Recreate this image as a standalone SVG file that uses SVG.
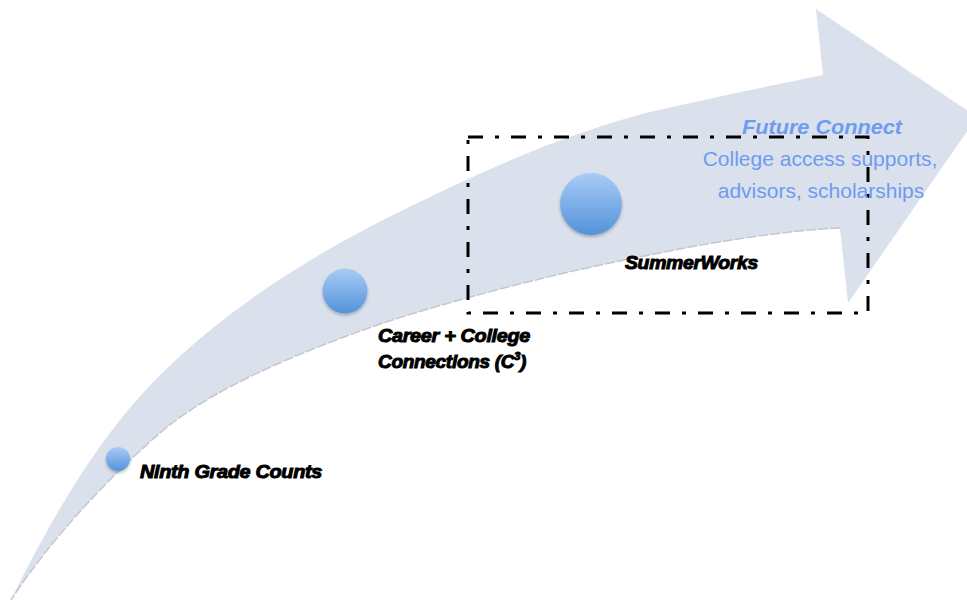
<svg xmlns="http://www.w3.org/2000/svg" width="967" height="605" viewBox="0 0 967 605">
<style>
.lbl{font-family:"Liberation Sans",Arial,sans-serif;font-weight:bold;font-style:italic;font-size:19px;fill:#000;stroke:#000;stroke-width:1;letter-spacing:-0.3px}
.fc{font-family:"Liberation Sans",Arial,sans-serif;font-weight:bold;font-style:italic;font-size:21px;fill:#6d9cf0}
.desc{font-family:"Liberation Sans",Arial,sans-serif;font-size:21px;fill:#6d9cf0;text-anchor:middle}
.dot{fill:url(#g)}
</style>
<defs>
<linearGradient id="g" x1="0" y1="0" x2="0" y2="1">
<stop offset="0" stop-color="#a9cbf7"/>
<stop offset="1" stop-color="#5393d9"/>
</linearGradient>
<filter id="sh" x="-50%" y="-50%" width="200%" height="200%">
<feDropShadow dx="0" dy="2" stdDeviation="1.5" flood-color="#000" flood-opacity="0.25"/>
</filter>
</defs>
<g id="arrow">
<path d="M11,600 C50,520 95,445 143,393 C210,320 300,262 383,220 C470,176 560,135 650,112 C710,98 770,86 823,75 L816,9 L977,117 L848,303 L840,228 C790,230 710,242 650,255 C560,272 460,298 383,323 C300,352 220,385 167,427 C110,475 50,540 11,600 Z" fill="#dae1ec"/>
<path d="M840,228 C790,230 710,242 650,255 C560,272 460,298 383,323 C300,352 220,385 167,427 C110,475 50,540 11,600" fill="none" stroke="#c3c7ce" stroke-width="1.5" stroke-dasharray="10 2"/>
</g>
<g id="frame">
<rect x="468" y="137" width="400" height="176" fill="none" stroke="#000" stroke-width="3" stroke-dasharray="15 12 4 12"/>
</g>
<g id="ninth">
<circle class="dot" cx="118" cy="459" r="12" filter="url(#sh)"/>
<text class="lbl" x="140" y="478" textLength="182" lengthAdjust="spacingAndGlyphs">Ninth Grade Counts</text>
</g>
<g id="c3">
<circle class="dot" cx="345" cy="291" r="22.5" filter="url(#sh)"/>
<text class="lbl" x="378" y="342" textLength="152" lengthAdjust="spacingAndGlyphs">Career + College</text>
<text class="lbl" x="378" y="368">Connections (C<tspan dy="-8" font-size="11">3</tspan><tspan dy="8">)</tspan></text>
</g>
<g id="summer">
<circle class="dot" cx="591" cy="204" r="31" filter="url(#sh)"/>
<text class="lbl" x="625" y="269" textLength="133" lengthAdjust="spacingAndGlyphs">SummerWorks</text>
</g>
<g id="future">
<text class="fc" x="742" y="134" textLength="160" lengthAdjust="spacingAndGlyphs">Future Connect</text>
<text class="desc" x="820" y="166">College access supports,</text>
<text class="desc" x="821" y="198">advisors, scholarships</text>
</g>
</svg>
